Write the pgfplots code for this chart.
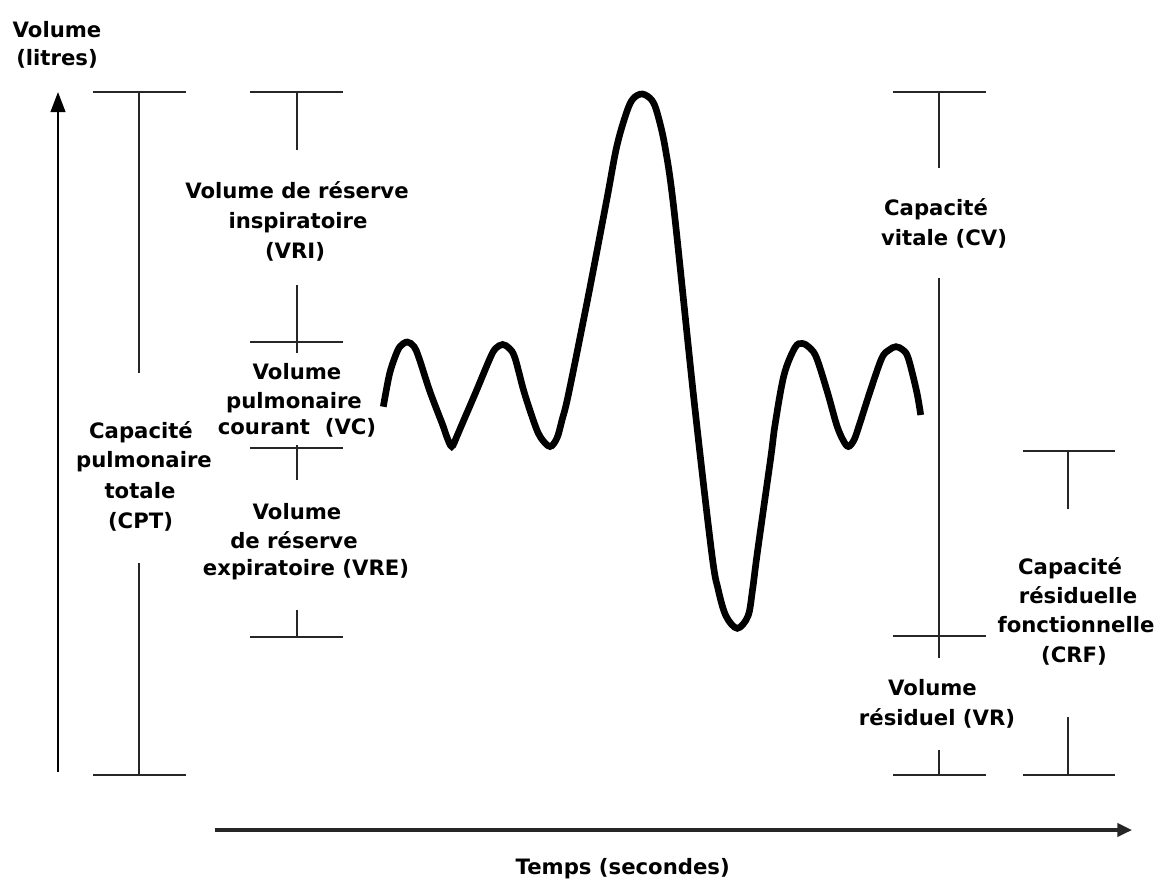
\documentclass[border=0pt]{standalone}
\usepackage{fontspec}
\setmainfont{DejaVu Sans}
\usepackage{pgfplots}
\pgfplotsset{compat=1.18}
\usetikzlibrary{arrows.meta}
\tikzset{lbl/.style={font=\fontsize{15.9}{21.75}\selectfont\bfseries, inner sep=0pt, anchor=base}}
\begin{document}
\begin{tikzpicture}
\begin{axis}[
  width=867pt, height=661.5pt, scale only axis,
  xmin=0, xmax=1156, ymin=0, ymax=882, y dir=reverse,
  hide axis, clip=false, unbounded coords=jump,
]
% frame for bounding box
\addplot[draw=none] coordinates {(0,0) (1156,882)};

% axes arrows
\addplot[line width=1.5pt, black, -{Triangle[length=15pt,width=11pt]}] coordinates {(58,772) (58,92)};
\addplot[line width=2.3pt, black!85, -{Triangle[length=11pt,width=10pt]}] coordinates {(215,830) (1132,830)};

% brackets
\addplot[line width=1.5pt, black!85] coordinates {
 (93,92) (186,92) (nan,nan)
 (139,92) (139,373) (nan,nan)
 (139,563) (139,775) (nan,nan)
 (93,775) (186,775) (nan,nan)
 (250,92) (343,92) (nan,nan)
 (297,92) (297,150) (nan,nan)
 (297,285) (297,353) (nan,nan)
 (250,342) (343,342) (nan,nan)
 (250,448) (343,448) (nan,nan)
 (297,445) (297,480) (nan,nan)
 (297,610) (297,637) (nan,nan)
 (250,637) (343,637) (nan,nan)
 (893,92) (986,92) (nan,nan)
 (939,92) (939,168) (nan,nan)
 (939,278) (939,658) (nan,nan)
 (893,636) (986,636) (nan,nan)
 (939,750) (939,775) (nan,nan)
 (893,775) (986,775) (nan,nan)
 (1023,451) (1115,451) (nan,nan)
 (1068,451) (1068,509) (nan,nan)
 (1068,717) (1068,775) (nan,nan)
 (1023,775) (1115,775)
};

% breathing curve
\addplot[line width=5pt, black, smooth, tension=0.55] coordinates {
 (383.3,406.7) (389.3,375) (395,357) (400,346.5) (407.3,342) (414,346.5)
 (419,358) (430,391.7) (442.7,425) (446.5,436) (451.7,446.5) (457,436)
 (461.7,425) (476,391.7) (490,358.3) (495.5,348.5) (502.7,344.5) (509.5,348.5)
 (515,358) (524,391.7) (535,425) (541,438) (550,446.5) (557,438)
 (562,420) (568.3,395) (587.5,300) (606.7,200) (616.7,146.7) (626.7,112)
 (633.3,98.5) (642.3,94) (651.7,100) (657.3,113.3) (665,146.7) (674,210)
 (694,400) (711.7,553) (718.3,590) (726,616) (737.3,628.3) (748,616)
 (752.5,590) (757.3,553) (770.7,458) (775,425) (784,375) (795,347.5)
 (802.3,343.5) (810,348) (816.7,358.3) (827.3,391.7) (836.7,425) (843,440)
 (848.3,446.5) (854,440) (859.3,425) (870,391.7) (881.7,358.3) (889,350)
 (896,346.7) (903,350) (908.3,358.3) (916.7,391.7) (920.7,415)
};

% labels
\node[lbl] at (axis cs:57,37) {Volume};
\node[lbl] at (axis cs:57,65) {(litres)};

\node[lbl] at (axis cs:297,198) {Volume de réserve};
\node[lbl] at (axis cs:298,228) {inspiratoire};
\node[lbl] at (axis cs:295,258) {(VRI)};

\node[lbl] at (axis cs:297,379) {Volume};
\node[lbl] at (axis cs:294,408) {pulmonaire};
\node[lbl] at (axis cs:297,434) {courant\ \ (VC)};

\node[lbl] at (axis cs:297,519) {Volume};
\node[lbl] at (axis cs:294,548) {de réserve};
\node[lbl] at (axis cs:306,575) {expiratoire (VRE)};

\node[lbl] at (axis cs:141,438) {Capacité};
\node[lbl] at (axis cs:144,467) {pulmonaire};
\node[lbl] at (axis cs:140,498) {totale};
\node[lbl] at (axis cs:140.5,528) {(CPT)};

\node[lbl] at (axis cs:936,215) {Capacité};
\node[lbl] at (axis cs:944,245) {vitale (CV)};

\node[lbl] at (axis cs:932.5,695) {Volume};
\node[lbl] at (axis cs:937,725) {résiduel (VR)};

\node[lbl] at (axis cs:1070,574) {Capacité};
\node[lbl] at (axis cs:1078,603) {résiduelle};
\node[lbl] at (axis cs:1076,632) {fonctionnelle};
\node[lbl] at (axis cs:1074,662) {(CRF)};

\node[lbl] at (axis cs:622.7,874) {Temps (secondes)};
\end{axis}
\end{tikzpicture}
\end{document}
